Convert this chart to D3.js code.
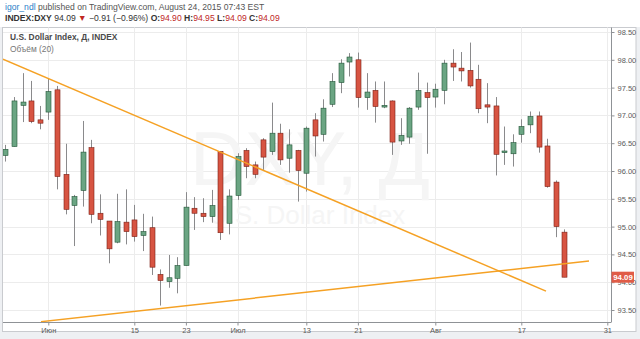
<!DOCTYPE html>
<html>
<head>
<meta charset="utf-8">
<script src="https://cdn.jsdelivr.net/npm/d3@7"></script>
<style>
  body { margin: 0; background: #eef0f3; }
  svg { display: block; font-family: "Liberation Sans", Arial, sans-serif; }
</style>
</head>
<body>
<div id="chart"></div>
<script>
// trading days shown (index 0 .. 65)
const days = ['05-22','05-26','05-27','05-28','05-29','06-01','06-02','06-03','06-04','06-05',
  '06-08','06-09','06-10','06-11','06-12','06-15','06-16','06-17','06-18','06-19',
  '06-22','06-23','06-24','06-25','06-26','06-29','06-30','07-01','07-02','07-03',
  '07-06','07-07','07-08','07-09','07-10','07-13','07-14','07-15','07-16','07-17',
  '07-20','07-21','07-22','07-23','07-24','07-27','07-28','07-29','07-30','07-31',
  '08-03','08-04','08-05','08-06','08-07','08-10','08-11','08-12','08-13','08-14',
  '08-17','08-18','08-19','08-20','08-21','08-24'];

const open = [96.28,96.44,97.18,97.26,96.92,97.06,97.46,95.94,95.38,95.65,
  96.42,95.24,95.10,94.72,95.08,95.12,94.84,94.98,94.14,94.01,
  94.07,94.30,95.33,95.24,95.18,96.35,95.06,95.56,96.37,96.11,
  96.56,96.35,96.68,96.23,96.37,95.96,96.92,96.66,97.20,97.59,
  97.96,98.00,97.32,97.45,97.15,97.26,96.54,96.61,97.15,97.41,
  97.33,97.45,97.94,97.85,97.81,97.65,97.19,97.17,96.33,96.31,
  96.66,96.83,96.99,96.45,95.80,94.90];
const high = [96.47,97.33,97.76,97.62,97.17,97.67,97.53,96.49,95.57,96.90,
  96.56,95.58,95.10,95.59,95.67,95.39,95.23,95.18,94.23,94.49,
  94.45,95.62,95.53,95.51,95.66,96.36,95.67,96.32,96.41,96.17,
  96.59,97.23,96.85,96.75,96.38,96.80,97.04,97.29,97.76,98.01,
  98.12,98.13,97.76,97.61,97.61,97.27,96.95,97.15,97.77,97.59,
  97.57,98.00,98.19,98.14,98.31,97.91,97.58,97.33,96.80,96.66,
  96.93,97.07,97.07,96.58,95.83,94.95];
const low = [96.17,96.44,96.88,96.86,96.75,96.92,95.67,95.22,94.65,95.36,
  95.06,94.84,94.34,94.70,94.68,94.73,94.56,94.13,93.58,93.90,
  93.80,94.30,94.94,95.08,95.07,94.76,94.86,95.48,95.87,95.87,
  96.02,96.29,96.11,95.97,95.45,95.63,96.26,96.53,97.15,97.40,
  97.70,97.14,97.10,96.87,97.13,96.29,96.47,96.49,97.10,96.31,
  97.14,97.20,97.62,97.61,97.50,97.04,96.86,95.92,96.11,96.08,
  96.51,96.68,96.33,95.70,94.81,94.09];
const close = [96.39,97.26,97.24,96.89,96.86,97.43,95.90,95.31,95.54,96.34,
  95.22,95.13,94.60,95.09,94.91,94.82,94.91,94.27,94.03,94.08,
  94.30,95.35,95.24,95.18,95.38,94.89,95.55,96.26,96.08,95.94,
  96.25,96.68,96.20,96.47,96.01,96.77,96.63,97.13,97.61,97.94,
  98.05,97.32,97.42,97.16,97.18,96.52,96.64,97.13,97.45,97.32,
  97.47,97.94,97.87,97.80,97.53,97.12,97.15,96.30,96.36,96.51,
  96.80,96.98,96.43,95.72,95.00,94.09];

// x-axis ticks (trading-day index) and labels
const tickIdx = [5, 15, 21, 27, 35, 41, 50, 60, 70];
const tickLabels = ['Июн', '15', '23', 'Июл', '13', '21', 'Авг', '17', '31'];
const priceTicks = [93.5, 94, 94.5, 95, 95.5, 96, 96.5, 97, 97.5, 98, 98.5];

// trend lines: [index, price] end points
const trendDown = [[-0.27, 98.01], [62.87, 93.84]];
const trendUp = [[4.15, 93.29], [67.87, 94.38]];

const lastPrice = 94.09;

const W = 640, H = 339;
const plot = { left: 3, top: 27.5, right: 611, bottom: 322 };

const svg = d3.select('#chart').append('svg')
  .attr('width', W)
  .attr('height', H);

// header
svg.append('rect').attr('x', 0).attr('y', 0).attr('width', W).attr('height', 27).attr('fill', '#fff');

const h1 = svg.append('text').attr('x', 5).attr('y', 9.5).attr('font-size', 8.6).attr('fill', '#555');
h1.append('tspan').attr('fill', '#2c80c8').text('igor_ndl');
h1.append('tspan').text(' published on TradingView.com, August 24, 2015 07:43 EST');

const h2 = svg.append('text').attr('x', 5).attr('y', 20.5).attr('font-size', 8.6).attr('fill', '#333');
h2.append('tspan').attr('font-weight', 'bold').text('INDEX:DXY');
h2.append('tspan').text(' 94.09 ');
h2.append('tspan').attr('fill', '#c0281f').text('▼');
h2.append('tspan').text(' −0.91 (−0.96%) ');
[['O:', '94.90'], ['H:', '94.95'], ['L:', '94.09'], ['C:', '94.09']].forEach(d => {
  h2.append('tspan').attr('font-weight', 'bold').text(d[0]);
  h2.append('tspan').attr('fill', '#c0281f').text(d[1] + ' ');
});

// panel
svg.append('rect')
  .attr('x', 2.5).attr('y', 27.5).attr('width', 633.5).attr('height', 304)
  .attr('fill', '#fff').attr('stroke', '#c9cbcf');

const x = d3.scaleLinear().domain([0, 65]).range([5.3, 564.3]);
const y = d3.scaleLinear().domain([93.5, 98.5]).range([310, 32]);

// grid
const grid = svg.append('g');
grid.selectAll('.hg').data(priceTicks).enter().append('line')
  .attr('x1', plot.left).attr('x2', plot.right)
  .attr('y1', d => Math.round(y(d)) + 0.5).attr('y2', d => Math.round(y(d)) + 0.5)
  .attr('stroke', '#ececec');
grid.selectAll('.vg').data(tickIdx).enter().append('line')
  .attr('x1', d => Math.round(x(d)) + 0.5).attr('x2', d => Math.round(x(d)) + 0.5)
  .attr('y1', plot.top).attr('y2', plot.bottom)
  .attr('stroke', '#ececec');

// watermark
svg.append('text').attr('x', 310).attr('y', 185).attr('text-anchor', 'middle')
  .attr('font-size', 76).attr('fill', '#f5f5f5').text('DXY, Д');
svg.append('text').attr('x', 307).attr('y', 224).attr('text-anchor', 'middle')
  .attr('font-size', 26).attr('fill', '#f5f5f5').text('U.S. Dollar Index');

// legend
svg.append('text').attr('x', 10).attr('y', 40).attr('font-size', 8.4)
  .attr('font-weight', 'bold').attr('fill', '#4a4a4a').text('U.S. Dollar Index, Д, INDEX');
svg.append('text').attr('x', 10).attr('y', 51.5).attr('font-size', 8.4)
  .attr('fill', '#777').text('Объём (20)');

// clip
svg.append('clipPath').attr('id', 'clip').append('rect')
  .attr('x', plot.left).attr('y', plot.top)
  .attr('width', plot.right - plot.left).attr('height', plot.bottom - plot.top);

const g = svg.append('g').attr('clip-path', 'url(#clip)');

const candles = d3.range(days.length).map(i => ({
  i: i, o: open[i], h: high[i], l: low[i], c: close[i]
}));

// wicks
g.selectAll('.wick').data(candles).enter().append('line')
  .attr('class', 'wick')
  .attr('x1', d => Math.round(x(d.i)) + 0.5).attr('x2', d => Math.round(x(d.i)) + 0.5)
  .attr('y1', d => y(d.h)).attr('y2', d => y(d.l))
  .attr('stroke', '#8a8a8c');

// bodies
g.selectAll('.body').data(candles).enter().append('rect')
  .attr('class', 'body')
  .attr('x', d => Math.round(x(d.i)) - 2)
  .attr('width', 5)
  .attr('y', d => y(Math.max(d.o, d.c)))
  .attr('height', d => Math.max(1.5, Math.abs(y(d.o) - y(d.c))))
  .attr('fill', d => d.c >= d.o ? '#6ba583' : '#d75442')
  .attr('stroke', d => d.c >= d.o ? '#225437' : '#7a2016')
  .attr('stroke-width', 0.6);

// trend lines
const line = d3.line().x(d => x(d[0])).y(d => y(d[1]));
g.selectAll('.trend').data([trendDown, trendUp]).enter().append('path')
  .attr('d', line)
  .attr('fill', 'none')
  .attr('stroke', '#f5a124')
  .attr('stroke-width', 1.5);

// right price axis
const yAxis = d3.axisRight(y).tickValues(priceTicks).tickSize(3).tickFormat(d3.format('.2f'));
const ya = svg.append('g').attr('transform', `translate(${plot.right + 0.5},0)`).call(yAxis);
ya.select('.domain').attr('d', `M0,${plot.top}V${plot.bottom}`).attr('stroke', '#8f9296');
ya.selectAll('.tick line').attr('stroke', '#8f9296');
ya.selectAll('.tick text').attr('font-size', 7.5).attr('fill', '#5a5a5a')
  .attr('font-family', '"Liberation Sans", Arial, sans-serif');

// bottom time axis
const xAxis = d3.axisBottom(x).tickValues(tickIdx).tickSize(3)
  .tickFormat((d, k) => tickLabels[k]);
const xa = svg.append('g').attr('transform', `translate(0,${plot.bottom + 0.5})`).call(xAxis);
xa.select('.domain').attr('d', `M${plot.left},0H${plot.right + 0.5}`).attr('stroke', '#8f9296');
xa.selectAll('.tick line').attr('stroke', '#8f9296');
xa.selectAll('.tick text').attr('font-size', 7.5).attr('fill', '#5a5a5a').attr('dy', '0.55em')
  .attr('font-family', '"Liberation Sans", Arial, sans-serif');

// last price label
svg.append('rect')
  .attr('x', plot.right + 0.5).attr('y', y(lastPrice) - 5.5)
  .attr('width', 22.5).attr('height', 11)
  .attr('fill', '#e05c47');
svg.append('text')
  .attr('x', plot.right + 12).attr('y', y(lastPrice) + 3)
  .attr('text-anchor', 'middle').attr('font-size', 7.8).attr('font-weight', 'bold')
  .attr('fill', '#fff').text(lastPrice.toFixed(2));
</script>
</body>
</html>
